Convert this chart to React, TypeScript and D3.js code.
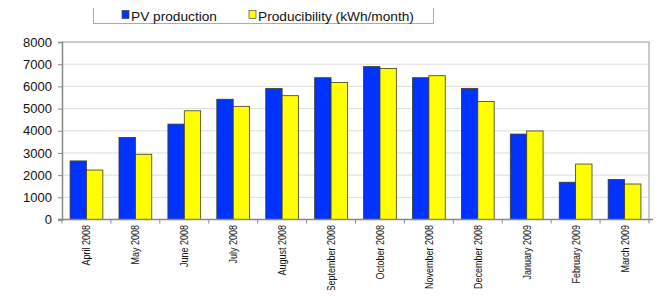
import React, { useEffect, useRef } from 'react'
import * as d3 from 'd3'

const months = [
    'April 2008', 'May 2008', 'June 2008', 'July 2008', 'August 2008', 'September 2008',
    'October 2008', 'November 2008', 'December 2008', 'January 2009', 'February 2009', 'March 2009'
]
const pvProduction = [2640, 3700, 4300, 5420, 5900, 6390, 6890, 6390, 5900, 3850, 1680, 1800]
const producibility = [2230, 2940, 4900, 5100, 5580, 6180, 6810, 6480, 5320, 3990, 2500, 1600]
const seriesNames = ['PV production', 'Producibility (kWh/month)']
const colors = ['#0033ff', '#ffff00']
const yTicks = [0, 1000, 2000, 3000, 4000, 5000, 6000, 7000, 8000]

const W = 662
const H = 298
const plot = { left: 62, right: 649, top: 42, bottom: 219.5 }

const App: React.FC = () => {
    const ref = useRef<SVGSVGElement>(null)
    useEffect(() => {
        const svg = d3.select(ref.current)
        svg.selectAll('*').remove()
        const font = 'Liberation Sans, Arial, sans-serif'

        const x = d3.scaleBand<string>().domain(months).range([plot.left, plot.right]).paddingInner(0.33).paddingOuter(0.165)
        const inner = d3.scaleBand<number>().domain([0, 1]).range([0, x.bandwidth()])
        const y = d3.scaleLinear().domain([0, 8000]).range([plot.bottom, plot.top])

        // grid
        svg.append('g')
            .selectAll('line')
            .data(yTicks.slice(1, -1))
            .join('line')
            .attr('x1', plot.left).attr('x2', plot.right)
            .attr('y1', (d) => y(d)).attr('y2', (d) => y(d))
            .attr('stroke', '#dcdcdc')

        // frame top/right
        svg.append('path')
            .attr('d', `M${plot.left},${plot.top}H${plot.right}V${plot.bottom}`)
            .attr('fill', 'none').attr('stroke', '#bbbbbb').attr('stroke-width', 1.5)

        // bars
        const series = [pvProduction, producibility]
        series.forEach((vals, si) => {
            svg.append('g')
                .selectAll('rect')
                .data(vals)
                .join('rect')
                .attr('x', (_, i) => (x(months[i]) as number) + (inner(si) as number))
                .attr('width', inner.bandwidth())
                .attr('y', (d) => y(d))
                .attr('height', (d) => y(0) - y(d))
                .attr('fill', colors[si])
                .attr('stroke', '#3a3a20')
                .attr('stroke-width', 0.8)
        })

        // y axis
        const ya = svg.append('g').attr('transform', `translate(${plot.left},0)`)
            .call(d3.axisLeft(y).tickValues(yTicks).tickSize(4).tickFormat((d) => String(d)))
        ya.select('.domain').attr('stroke', '#888').attr('stroke-width', 1.5)
        ya.selectAll('line').attr('stroke', '#888')
        ya.selectAll('text').attr('font-family', font).attr('font-size', 13).attr('fill', '#111').attr('x', -10)

        // x axis
        const xa = svg.append('g').attr('transform', `translate(0,${plot.bottom})`)
        xa.append('line').attr('x1', plot.left - 4).attr('x2', plot.right + 4).attr('stroke', '#888').attr('stroke-width', 1.5)
        const step = x.step()
        xa.selectAll('line.tick')
            .data(d3.range(months.length + 1))
            .join('line')
            .attr('class', 'tick')
            .attr('x1', (i) => plot.left + i * step).attr('x2', (i) => plot.left + i * step)
            .attr('y1', 0).attr('y2', 4)
            .attr('stroke', '#888')
        xa.selectAll('text')
            .data(months)
            .join('text')
            .attr('transform', (d) => `translate(${(x(d) as number) + x.bandwidth() / 2 + 4},5.5) rotate(-90) scale(0.9,1)`)
            .attr('text-anchor', 'end')
            .attr('font-family', font)
            .attr('font-size', 10)
            .attr('fill', '#111')
            .text((d) => d)

        // legend
        const lg = svg.append('g')
        lg.append('rect').attr('x', 93.5).attr('y', 7.5).attr('width', 340).attr('height', 16)
            .attr('fill', '#fff').attr('stroke', '#aaa')
        const lx = [122, 249]
        seriesNames.forEach((name, i) => {
            lg.append('rect').attr('x', lx[i]).attr('y', 10.5).attr('width', 7).attr('height', 8)
                .attr('fill', colors[i]).attr('stroke', '#333').attr('stroke-width', 0.6)
            lg.append('text').attr('x', lx[i] + 9).attr('y', 21)
                .attr('font-family', font).attr('font-size', 13.7).attr('fill', '#111').text(name)
        })
    }, [])
    return (
        <div style={{ margin: -8 }}>
            <svg ref={ref} width={W} height={H} viewBox={`0 0 ${W} ${H}`} style={{ display: 'block', background: '#fff' }} />
        </div>
    )
}

export default App
